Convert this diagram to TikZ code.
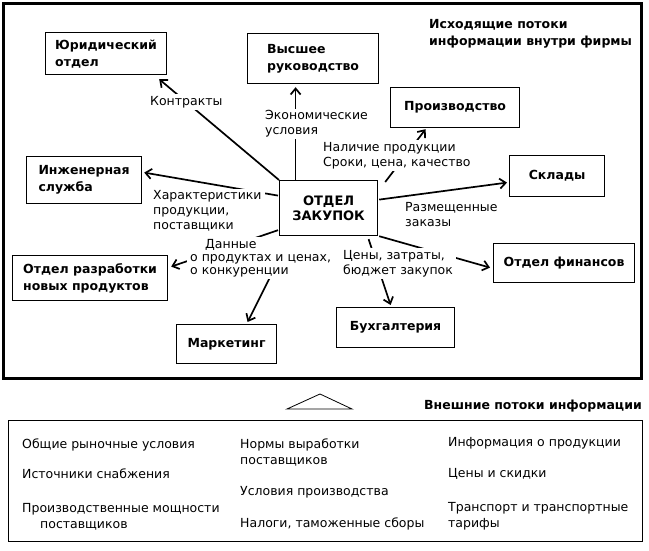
\documentclass[tikz,border=0pt]{standalone}
\usepackage{fontspec}
\setmainfont{DejaVu Sans}
\usetikzlibrary{arrows.meta}
\begin{document}
\begin{tikzpicture}[x=1pt,y=-1pt,
  box/.style={draw, line width=1.2pt, anchor=north west, inner sep=0pt, align=left,
    font=\bfseries\fontsize{12.5}{17}\selectfont},
  lbl/.style={anchor=west, align=left, fill=white, inner xsep=3pt, inner ysep=2pt,
    font=\fontsize{12.5}{15}\selectfont},
  lblnf/.style={lbl, fill=none},
  conn/.style={line width=1.7pt, -{Straight Barb[length=6pt,width=10pt,line width=1.7pt]}},
  btxt/.style={anchor=west, align=left, inner sep=0pt, font=\fontsize{12.5}{16}\selectfont},
  ttl/.style={anchor=west, align=left, inner sep=0pt, font=\bfseries\fontsize{12.5}{17}\selectfont}]
\useasboundingbox (0,0) rectangle (649,551);
% outer frame
\draw[line width=3.2pt] (3.5,3.5) rectangle (641.5,378.5);
% title
\node[ttl] (title) at (429,33.5) {Исходящие потоки\\информации внутри фирмы};
% boxes
\node[box, minimum width=121pt, minimum height=42pt] (jur) at (45,32) {Юридический\\отдел};
\node[box, minimum width=131pt, minimum height=50pt] (top) at (247,33) {Высшее\\руководство};
\node[box, minimum width=129pt, minimum height=40pt] (prod) at (390,87) {Производство};
\node[box, minimum width=95pt, minimum height=41pt] (skl) at (509,155) {Склады};
\node[box, minimum width=115pt, minimum height=47pt] (eng) at (26,156) {Инженерная\\служба};
\node[box, minimum width=98pt, minimum height=55pt, align=center, font=\bfseries\fontsize{13}{15.5}\selectfont] (zak) at (279,180) {ОТДЕЛ\\ЗАКУПОК};
\node[box, minimum width=155pt, minimum height=45pt] (razr) at (12,255) {Отдел разработки\\новых продуктов};
\node[box, minimum width=100pt, minimum height=39pt] (mkt) at (176,324) {Маркетинг};
\node[box, minimum width=118pt, minimum height=40pt] (buh) at (336,307) {Бухгалтерия};
\node[box, minimum width=141pt, minimum height=39pt] (fin) at (493,243) {Отдел финансов};
% connectors
\draw[conn] (zak.north west) -- ([xshift=-8pt,yshift=-4pt]jur.south east);
\draw[conn] ([xshift=-33pt]zak.north) -- ([xshift=-17.5pt,yshift=-3pt]top.south);
\draw[conn] ([xshift=7pt,yshift=-2pt]zak.north east) -- ([xshift=-29.5pt,yshift=-1pt]prod.south);
\draw[conn] ([xshift=1pt,yshift=8.5pt]zak.east) -- ([xshift=-2pt,yshift=-6.5pt]skl.west);
\draw[conn] ([xshift=1pt]zak.south east) -- ([xshift=-3pt,yshift=-4.5pt]fin.west);
\draw[conn] ([xshift=40pt,yshift=-3pt]zak.south) -- ([xshift=-5pt,yshift=2pt]buh.north);
\draw[conn] ([xshift=-39pt,yshift=-2pt]zak.south) -- ([xshift=21pt,yshift=2pt]mkt.north);
\draw[conn] ([xshift=-1pt,yshift=6pt]zak.south west) -- ([xshift=3pt,yshift=11.5pt]razr.east);
\draw[conn] ([xshift=-1pt,yshift=12.5pt]zak.west) -- ([xshift=2pt,yshift=7.5pt]eng.east);
% labels
\node[lbl] (lcontr) at (147,102) {Контракты};
\node[lbl] (lecon) at (262,124) {Экономические\\условия};
\node[lbl] (lnal) at (320,155.5) {Наличие продукции\\Сроки, цена, качество};
\node[lblnf] (lraz) at (402,214.5) {Размещенные\\заказы};
\node[lbl] (lcen) at (340,263.5) {Цены, затраты,\\бюджет закупок};
\node[lbl, font=\fontsize{12.5}{13}\selectfont] (ldan) at (187,258) {\hspace*{15pt}Данные\\о продуктах и ценах,\\о конкуренции};
\node[lbl] (lhar) at (150,211) {Характеристики\\продукции,\\поставщики};
% external flows
\draw[line width=0.8pt] (287,409) -- (320,394) -- (352,409) -- cycle;
\node[ttl] (ext) at (424,406) {Внешние потоки информации};
\draw[line width=1pt] (8.5,420.5) rectangle (642.5,541.5);
\node[btxt] (b1) at (22,445) {Общие рыночные условия};
\node[btxt] (b2) at (22,474) {Источники снабжения};
\node[btxt] (b3) at (22,516.5) {Производственные мощности\\\hspace*{18pt}поставщиков};
\node[btxt] (b4) at (240,452.5) {Нормы выработки\\поставщиков};
\node[btxt] (b5) at (240,492) {Условия производства};
\node[btxt] (b6) at (240,524) {Налоги, таможенные сборы};
\node[btxt] (b7) at (448,443) {Информация о продукции};
\node[btxt] (b8) at (448,474) {Цены и скидки};
\node[btxt] (b9) at (448,516.5) {Транспорт и транспортные\\тарифы};
\end{tikzpicture}
\end{document}
